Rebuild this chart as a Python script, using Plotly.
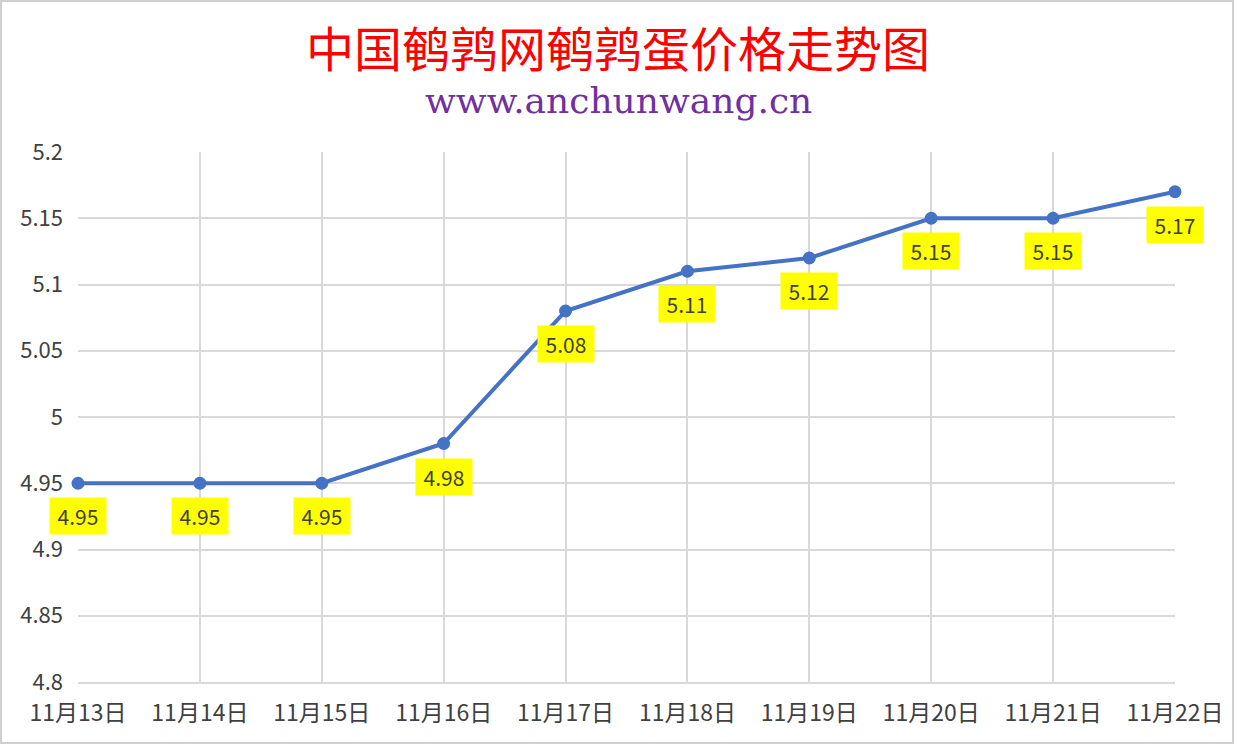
import plotly.graph_objects as go

# 鹌鹑蛋价格 data
dates = ['11月13日', '11月14日', '11月15日', '11月16日', '11月17日',
         '11月18日', '11月19日', '11月20日', '11月21日', '11月22日']
prices = [4.95, 4.95, 4.95, 4.98, 5.08, 5.11, 5.12, 5.15, 5.15, 5.17]
y_ticks = [4.8, 4.85, 4.9, 4.95, 5, 5.05, 5.1, 5.15, 5.2]

W, H = 1237, 745
L, R, T, B = 78, 62, 152, 63

fig = go.Figure()
fig.add_trace(go.Scatter(
    x=dates, y=prices, mode='lines+markers',
    line=dict(color='#4472C4', width=4),
    marker=dict(color='#4472C4', size=13),
    cliponaxis=False, hoverinfo='x+y', showlegend=False
))

# yellow value labels under each point
for d, p in zip(dates, prices):
    fig.add_annotation(
        x=d, y=p, xref='x', yref='y', text=f'{p:g}', showarrow=False,
        yshift=-33, bgcolor='#FFFF00', borderpad=4, width=48, height=28,
        font=dict(family='Noto Sans CJK SC', size=21, color='#404040')
    )

pw = W - L - R
ph = H - T - B
# outer frame
fig.add_shape(type='rect', xref='paper', yref='paper',
              x0=(1 - L) / pw, x1=(W - 4 - L) / pw,
              y0=(H - B - (H - 2)) / ph, y1=(H - B - 1) / ph,
              line=dict(color='#D0D0D0', width=2), layer='below')

fig.add_annotation(text='中国鹌鹑网鹌鹑蛋价格走势图', xref='paper', yref='paper',
                   x=(618 - L) / pw, y=(H - B - 46) / ph, showarrow=False,
                   xanchor='center', yanchor='middle',
                   font=dict(family='Noto Sans CJK SC', size=48, color='#FF0000'))
fig.add_annotation(text='www.anchunwang.cn', xref='paper', yref='paper',
                   x=(618 - L) / pw, y=(H - B - 100) / ph, showarrow=False,
                   xanchor='center', yanchor='middle',
                   font=dict(family='DejaVu Serif', size=36, color='#7030A0'))

fig.update_layout(
    width=W, height=H,
    margin=dict(l=L, r=R, t=T, b=B),
    paper_bgcolor='white', plot_bgcolor='white',
    font=dict(family='Noto Sans CJK SC', size=21, color='#404040'),
)
fig.update_xaxes(
    type='category', range=[0, len(dates) - 1],
    showgrid=True, gridcolor='#D9D9D9', gridwidth=1.5,
    showline=True, linecolor='#D9D9D9', linewidth=1.5,
    ticks='', ticklabelstandoff=10, tickfont=dict(size=23, color='#404040'),
)
fig.update_yaxes(
    range=[4.8, 5.2], tickvals=y_ticks, ticktext=[f'{v:g}' for v in y_ticks],
    showgrid=True, gridcolor='#D9D9D9', gridwidth=1.5,
    zeroline=False, showline=False, ticks='', ticklabelstandoff=14,
    tickfont=dict(size=22, color='#404040'),
)

fig.write_html('out.html', config={'displayModeBar': False},
               post_script="document.body.style.margin='0';")
